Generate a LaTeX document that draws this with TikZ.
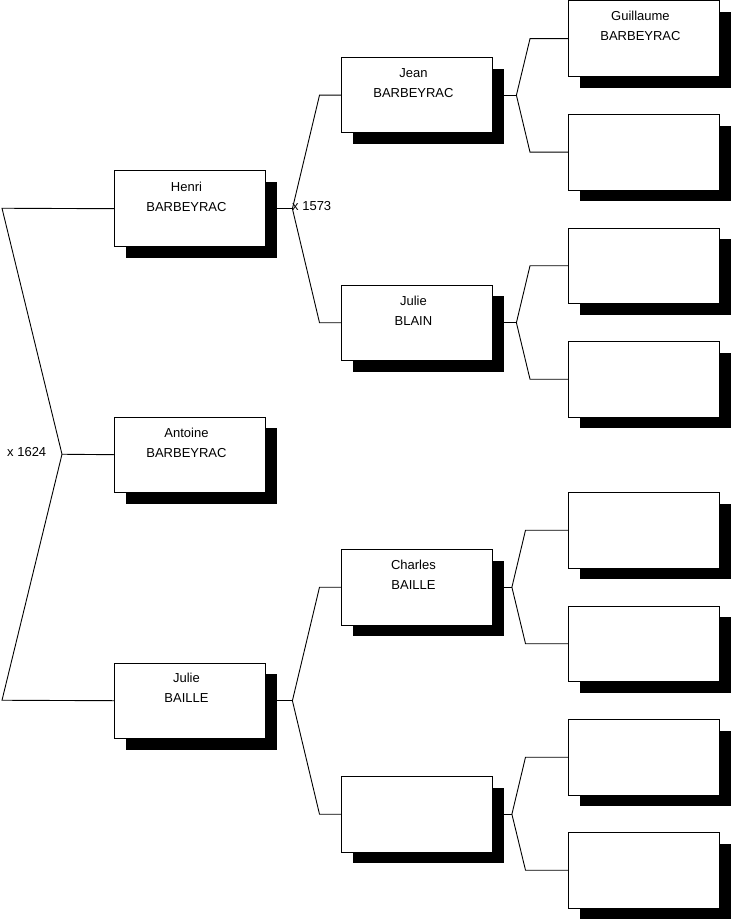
\documentclass[tikz,border=0pt]{standalone}
\usepackage{fontspec}
\setmainfont{Liberation Sans}
\usetikzlibrary{shadows}
\begin{document}
\begin{tikzpicture}[x=1pt,y=-1pt,
  person/.style={draw=black, line width=0.9pt, fill=white, minimum width=151pt, minimum height=75.5pt,
    anchor=north west, inner sep=0pt,
    drop shadow={shadow xshift=11.5pt, shadow yshift=-11.5pt, fill=black, opacity=1}},
  pname/.style={anchor=base, inner sep=0pt, font=\fontsize{13}{15}\selectfont},
  marr/.style={anchor=base west, inner sep=0pt, font=\fontsize{13}{15}\selectfont},
  link/.style={draw=black, line width=0.9pt}]
\useasboundingbox (0,0) rectangle (731,920);
% generation 1
\node[person] (henri) at (114,170.5) {};
\node[person] (antoine) at (114,416.5) {};
\node[person] (julieb) at (114,662.5) {};
% generation 2
\node[person] (jean) at (341,57) {};
\node[person] (blain) at (341,284.5) {};
\node[person] (charles) at (341,549) {};
\node[person] (ptwod) at (341,776) {};
% generation 3
\node[person] (ga) at (568,0.5) {};
\node[person] (gb) at (568,114) {};
\node[person] (gc) at (568,227.5) {};
\node[person] (gd) at (568,341) {};
\node[person] (ge) at (568,492) {};
\node[person] (gf) at (568,605.5) {};
\node[person] (gg) at (568,719) {};
\node[person] (gh) at (568,832) {};
% texts
\node[pname] (henri1) at ([xshift=-3.5pt,yshift=-21pt]henri.north) {Henri};
\node[pname] (henri2) at ([xshift=-3.5pt,yshift=-41pt]henri.north) {BARBEYRAC};
\node[pname] (antoine1) at ([xshift=-3.5pt,yshift=-20.5pt]antoine.north) {Antoine};
\node[pname] (antoine2) at ([xshift=-3.5pt,yshift=-40.5pt]antoine.north) {BARBEYRAC};
\node[pname] (julieb1) at ([xshift=-3.5pt,yshift=-19.5pt]julieb.north) {Julie};
\node[pname] (julieb2) at ([xshift=-3.5pt,yshift=-39.5pt]julieb.north) {BAILLE};
\node[pname] (jean1) at ([xshift=-3.5pt,yshift=-20.5pt]jean.north) {Jean};
\node[pname] (jean2) at ([xshift=-3.5pt,yshift=-40.5pt]jean.north) {BARBEYRAC};
\node[pname] (blain1) at ([xshift=-3.5pt,yshift=-20.5pt]blain.north) {Julie};
\node[pname] (blain2) at ([xshift=-3.5pt,yshift=-40.5pt]blain.north) {BLAIN};
\node[pname] (charles1) at ([xshift=-3.5pt,yshift=-20.5pt]charles.north) {Charles};
\node[pname] (charles2) at ([xshift=-3.5pt,yshift=-40.5pt]charles.north) {BAILLE};
\node[pname] (ga1) at ([xshift=-3.5pt,yshift=-20pt]ga.north) {Guillaume};
\node[pname] (ga2) at ([xshift=-3.5pt,yshift=-40pt]ga.north) {BARBEYRAC};
% marriage labels
\node[marr] (m1573) at (292,210.7) {x 1573};
\node[marr] (m1624) at (7,456) {x 1624};
% connectors, generation 0 -> 1
\coordinate (jl) at (62,454.25);
\coordinate (la) at (2,208.25);
\coordinate (lb) at (2,700.25);
\draw[link] (henri.west) -- (la) -- (jl) -- (lb) -- (julieb.west);
\draw[link] (jl) -- (antoine.west);
% generation 1 -> 2
\draw[link] (henri.east) -- ++(26.5pt,0) coordinate (jh);
\draw[link] (jean.west) -- ([xshift=-21.5pt]jean.west) -- (jh) -- ([xshift=-21.5pt]blain.west) -- (blain.west);
\draw[link] (julieb.east) -- ++(26.5pt,0) coordinate (jb);
\draw[link] (charles.west) -- ([xshift=-21.5pt]charles.west) -- (jb) -- ([xshift=-21.5pt]ptwod.west) -- (ptwod.west);
% generation 2 -> 3
\draw[link] (jean.east) -- ++(23.5pt,0) coordinate (jj);
\draw[link] (ga.west) -- ([xshift=-38pt]ga.west) -- (jj) -- ([xshift=-38pt]gb.west) -- (gb.west);
\draw[link] (blain.east) -- ++(23.5pt,0) coordinate (jbl);
\draw[link] (gc.west) -- ([xshift=-38pt]gc.west) -- (jbl) -- ([xshift=-38pt]gd.west) -- (gd.west);
\draw[link] (charles.east) -- ++(19pt,0) coordinate (jc);
\draw[link] (ge.west) -- ([xshift=-42.5pt]ge.west) -- (jc) -- ([xshift=-42.5pt]gf.west) -- (gf.west);
\draw[link] (ptwod.east) -- ++(19pt,0) coordinate (jd);
\draw[link] (gg.west) -- ([xshift=-42.5pt]gg.west) -- (jd) -- ([xshift=-42.5pt]gh.west) -- (gh.west);
\end{tikzpicture}
\end{document}
